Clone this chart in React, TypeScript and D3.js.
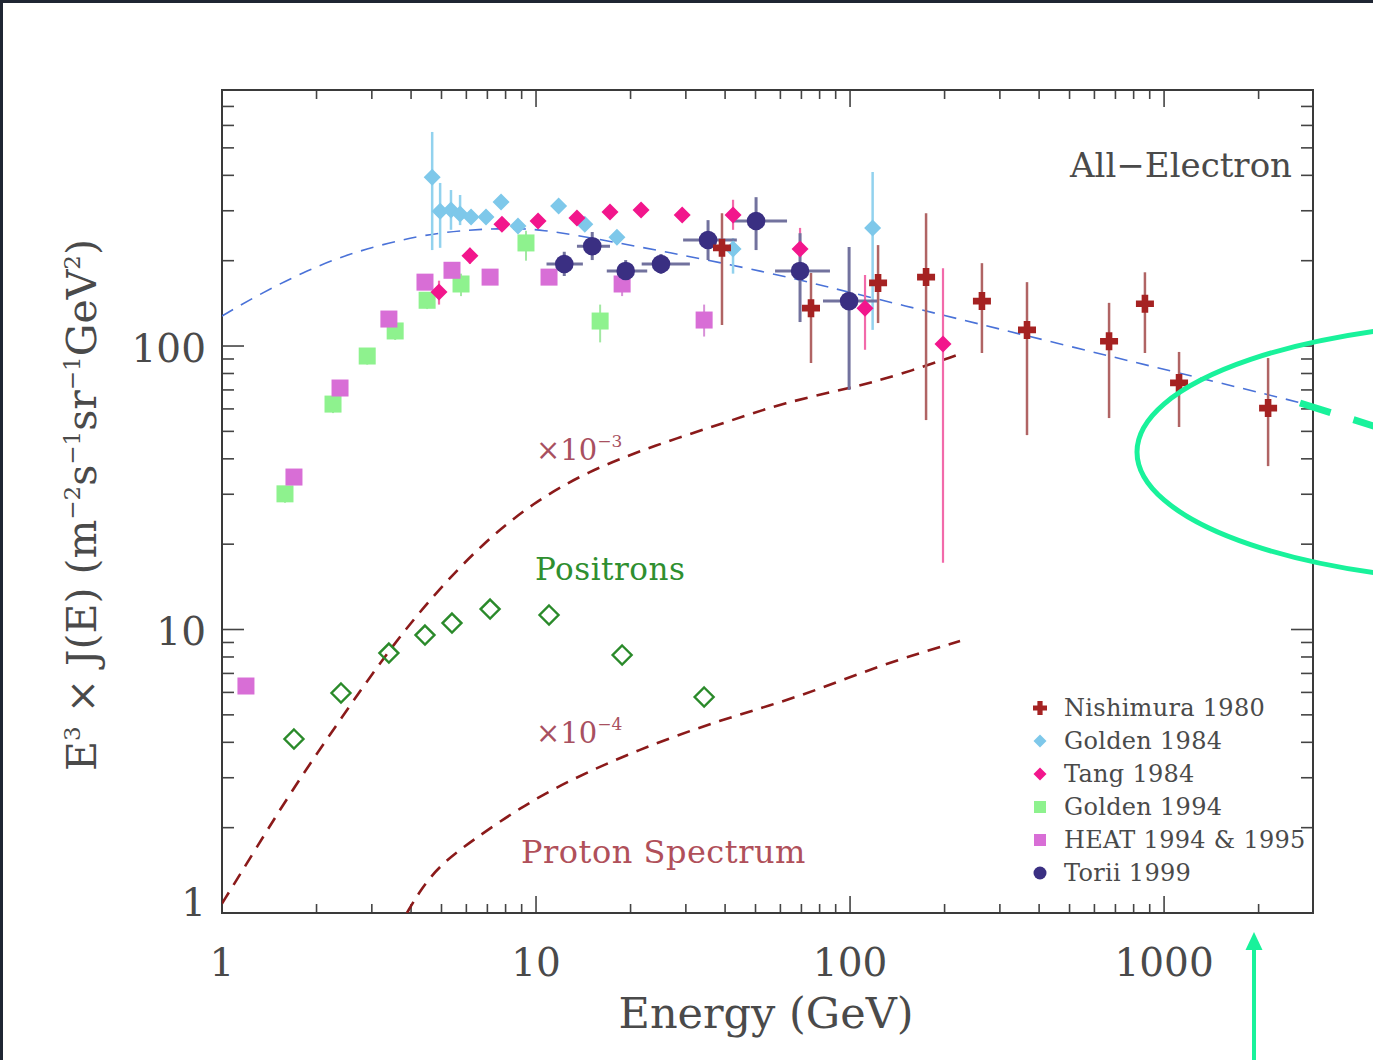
import React from 'react';
import * as d3 from 'd3';

const W = 1373;
const H = 1060;
const X_DOMAIN = [1, 2980];
const Y_DOMAIN = [1, 800];
const X_TICK_LABELS = [1, 10, 100, 1000];
const Y_TICK_LABELS = [1, 10, 100];

// [E (GeV), value, errLow, errHigh]
const nishimura1980 = [
  [39.1, 222, 118.6, 294],
  [75.1, 136, 87.1, 181],
  [122.8, 167, 120.5, 227],
  [174.6, 175, 54.8, 294],
  [263, 144, 94.5, 196],
  [366, 114, 48.5, 168],
  [668, 104, 55.7, 142],
  [869, 141, 94.5, 182],
  [1116, 74.1, 51.8, 95.3],
  [2144, 60.4, 37.7, 90.7],
];
const golden1984 = [
  [4.67, 394, 218, 569],
  [4.95, 299, 222, 376],
  [5.36, 302, 257, 355],
  [5.73, 292, 267, 341],
  [6.21, 285, 270, 300],
  [6.93, 285, 272, 298],
  [7.74, 322, 310, 335],
  [8.76, 265, 255, 276],
  [11.8, 312, 300, 325],
  [14.3, 269, 258, 280],
  [18.1, 242, 230, 255],
  [42.4, 220, 180, 240],
  [118, 261, 114, 411],
];
const tang1984 = [
  [4.91, 155, 140, 170],
  [6.16, 208, 195, 222],
  [7.79, 269, 255, 283],
  [10.15, 276, 262, 290],
  [13.5, 283, 270, 297],
  [17.2, 297, 283, 312],
  [21.6, 302, 288, 316],
  [29.2, 290, 276, 304],
  [42.4, 290, 257, 328],
  [69.3, 220, 206, 261],
  [111.6, 136, 97, 178],
  [197.7, 101.6, 17.2, 188],
];
const golden1994 = [
  [1.587, 30.1, 28, 32],
  [2.257, 62.4, 58, 67],
  [2.9, 92.2, 86, 98],
  [3.56, 113, 105, 121],
  [4.5, 145, 135, 155],
  [5.77, 165.5, 150, 180],
  [9.29, 231, 200, 255],
  [16.0, 122.5, 103, 140],
];
const heat9495 = [
  [1.192, 6.32, 6.1, 6.5],
  [1.695, 34.5, 33, 36],
  [2.376, 71.1, 68, 74],
  [3.4, 124.5, 119, 130],
  [4.43, 168, 160, 176],
  [5.4, 185, 176, 194],
  [7.14, 175, 167, 183],
  [11.0, 175, 167, 183],
  [18.8, 165.5, 150, 180],
  [34.3, 123.5, 108, 140],
];
// [E, value, errLow, errHigh, Elow, Ehigh]
const torii1999 = [
  [12.3, 194.6, 176.6, 215, 10.8, 14.1],
  [15.1, 225, 201, 252.5, 13.5, 17.2],
  [19.3, 184, 168, 201, 16.8, 22.6],
  [25.0, 194.6, 179.5, 211, 21.7, 30.9],
  [35.3, 236.6, 201, 278, 29.4, 43.6],
  [50.2, 276, 218, 335, 42.4, 63.0],
  [69.3, 184, 121.5, 250, 57.7, 86.3],
  [99.3, 144, 70, 223.5, 82.0, 121.9],
];
const positrons = [
  [1.695, 4.11],
  [2.393, 5.97],
  [3.4, 8.26],
  [4.43, 9.56],
  [5.4, 10.54],
  [7.14, 11.81],
  [11.0, 11.25],
  [18.8, 8.13],
  [34.3, 5.78],
];
const allElectronModel = [
  [1, 127.6],
  [1.255, 148],
  [1.81, 182.4],
  [2.61, 214.6],
  [4.27, 246.4],
  [6.03, 256.6],
  [8.27, 261],
  [10.5, 257],
  [14.5, 242.5],
  [26.1, 214.6],
  [54.4, 182.4],
  [88.3, 160],
  [144, 140],
  [300, 114.8],
  [708, 90.7],
  [1475, 74.6],
  [2980, 61.5],
];
const protonTimes1e3 = [
  [1, 1.08],
  [1.166, 1.42],
  [1.646, 2.65],
  [2.376, 4.8],
  [3.354, 8.3],
  [4.7, 13.2],
  [6.78, 20.2],
  [9.78, 28.0],
  [14.5, 36.0],
  [23.6, 44.5],
  [42.4, 54.8],
  [61.2, 63.0],
  [100, 71.1],
  [141, 78.5],
  [224, 93.7],
];
const protonTimes1e4 = [
  [3.88, 1.0],
  [4.27, 1.2],
  [4.95, 1.48],
  [6.3, 1.81],
  [8.89, 2.35],
  [12.6, 2.92],
  [21.0, 3.76],
  [38.5, 4.8],
  [69.3, 5.78],
  [124.7, 7.5],
  [224, 9.11],
];
const legendNames = [
  'Nishimura 1980',
  'Golden 1984',
  'Tang 1984',
  'Golden 1994',
  'HEAT 1994 & 1995',
  'Torii 1999',
];

const FONT = '"DejaVu Serif", serif';
const C = {
  nishimura: '#a52222',
  nishimuraErr: '#b06464',
  golden84: '#7ec8ea',
  golden84Err: '#92d2ee',
  tang: '#f2168c',
  tangErr: '#f26aaa',
  golden94: '#8ef28e',
  golden94Err: '#a2e8a2',
  heat: '#d86ed6',
  heatErr: '#d890d8',
  torii: '#3a2f82',
  toriiErr: '#72729e',
  positron: '#2a8a2a',
  model: '#4a72d8',
  proton: '#8b1a1a',
  green: '#19f29b',
};

function Diamond({ cx, cy, r, fill, stroke = 'none', sw = 0 }) {
  return (
    <path
      d={`M${cx},${cy - r}L${cx + r},${cy}L${cx},${cy + r}L${cx - r},${cy}Z`}
      fill={fill}
      stroke={stroke}
      strokeWidth={sw}
    />
  );
}
function Square({ cx, cy, s, fill }) {
  return <rect x={cx - s / 2} y={cy - s / 2} width={s} height={s} fill={fill} />;
}
function Cross({ cx, cy, a, t, fill }) {
  const d = `M${cx - t},${cy - a}H${cx + t}V${cy - t}H${cx + a}V${cy + t}H${cx + t}V${cy + a}H${cx - t}V${cy + t}H${cx - a}V${cy - t}H${cx - t}Z`;
  return <path d={d} fill={fill} />;
}

export default function App() {
  const x = d3.scaleLog().domain(X_DOMAIN).range([222, 1313]);
  const y = d3.scaleLog().domain(Y_DOMAIN).range([913, 90]);
  const [x0, x1] = x.range();
  const [y0, y1] = y.range();
  const ticksX = x.ticks();
  const ticksY = y.ticks();
  const isMajor = (v) => Math.abs(Math.log10(v) - Math.round(Math.log10(v))) < 1e-6;
  const line = d3
    .line()
    .x((d) => x(d[0]))
    .y((d) => y(d[1]))
    .curve(d3.curveBasis);

  const vbar = (d, color, w, key) => (
    <line key={key} x1={x(d[0])} x2={x(d[0])} y1={y(d[2])} y2={y(d[3])} stroke={color} strokeWidth={w} />
  );

  const legendY0 = 708;
  const legendDy = 33;
  const textGray = '#4a4a4a';

  return (
    <svg
      width={W}
      height={H}
      viewBox={`0 0 ${W} ${H}`}
      style={{ position: 'absolute', left: 0, top: 0, background: '#fff' }}
      fontFamily={FONT}
    >
      <rect x={0} y={0} width={W} height={H} fill="#fff" />
      <rect x={0} y={0} width={W} height={3} fill="#1f2633" />
      <rect x={0} y={0} width={3} height={H} fill="#1f2633" />
      <defs>
        <clipPath id="plot">
          <rect x={x0} y={y1} width={x1 - x0} height={y0 - y1} />
        </clipPath>
      </defs>

      {/* ticks */}
      <g stroke="#444" strokeWidth={1.6}>
        {ticksX.map((t, i) => {
          const L = isMajor(t) ? 17 : 9;
          const px = x(t);
          return (
            <g key={'tx' + i}>
              <line x1={px} x2={px} y1={y0} y2={y0 - L} />
              <line x1={px} x2={px} y1={y1} y2={y1 + L} />
            </g>
          );
        })}
        {ticksY.map((t, i) => {
          const L = isMajor(t) ? 22 : 12;
          const py = y(t);
          return (
            <g key={'ty' + i}>
              <line x1={x0} x2={x0 + L} y1={py} y2={py} />
              <line x1={x1} x2={x1 - L} y1={py} y2={py} />
            </g>
          );
        })}
      </g>
      <rect x={x0} y={y1} width={x1 - x0} height={y0 - y1} fill="none" stroke="#3a3a3a" strokeWidth={2} />

      {/* tick labels */}
      <g fill={textGray} fontSize={39}>
        {X_TICK_LABELS.map((t) => (
          <text key={'lx' + t} x={x(t)} y={976} textAnchor="middle">
            {t}
          </text>
        ))}
        {Y_TICK_LABELS.map((t) => (
          <text key={'ly' + t} x={206} y={Math.min(y(t), 900) + 2} textAnchor="end" dominantBaseline="central">
            {t}
          </text>
        ))}
      </g>

      {/* axis titles */}
      <text x={766} y={1028} textAnchor="middle" fontSize={43} fill={textGray}>
        Energy (GeV)
      </text>
      <text transform="translate(96,505) rotate(-90)" textAnchor="middle" fontSize={41} fill={textGray}>
        <tspan>E</tspan>
        <tspan dy={-16} fontSize={23}>3</tspan>
        <tspan dy={16}> × J(E) (m</tspan>
        <tspan dy={-16} fontSize={23}>−2</tspan>
        <tspan dy={16}>s</tspan>
        <tspan dy={-16} fontSize={23}>−1</tspan>
        <tspan dy={16}>sr</tspan>
        <tspan dy={-16} fontSize={23}>−1</tspan>
        <tspan dy={16}>GeV</tspan>
        <tspan dy={-16} fontSize={23}>2</tspan>
        <tspan dy={16}>)</tspan>
      </text>

      {/* model curves */}
      <g clipPath="url(#plot)" fill="none">
        <path d={line(allElectronModel)} stroke={C.model} strokeWidth={1.6} strokeDasharray="13 9" />
        <path d={line(protonTimes1e3)} stroke={C.proton} strokeWidth={2.6} strokeDasharray="13 9" />
        <path d={line(protonTimes1e4)} stroke={C.proton} strokeWidth={2.6} strokeDasharray="13 9" />
      </g>

      {/* labels in plot */}
      <text x={1292} y={177} textAnchor="end" fontSize={34} fill={textGray}>
        All−Electron
      </text>
      <text x={536} y={460} fontSize={29} fill="#a85060">
        <tspan>×10</tspan>
        <tspan dy={-13} fontSize={17}>−3</tspan>
      </text>
      <text x={536} y={743} fontSize={29} fill="#a85060">
        <tspan>×10</tspan>
        <tspan dy={-13} fontSize={17}>−4</tspan>
      </text>
      <text x={535} y={580} fontSize={31} fill="#2f8f2f" letterSpacing={0.5}>
        Positrons
      </text>
      <text x={521} y={863} fontSize={32} fill="#b0505a" letterSpacing={0.5}>
        Proton Spectrum
      </text>

      {/* error bars */}
      <g>
        {golden1984.map((d, i) => vbar(d, C.golden84Err, 2.5, 'g84e' + i))}
        {golden1994.map((d, i) => vbar(d, C.golden94Err, 2, 'g94e' + i))}
        {heat9495.map((d, i) => vbar(d, C.heatErr, 2, 'he' + i))}
        {tang1984.map((d, i) => vbar(d, C.tangErr, 2.2, 'te' + i))}
        {nishimura1980.map((d, i) => vbar(d, C.nishimuraErr, 2.5, 'ne' + i))}
        {torii1999.map((d, i) => (
          <g key={'toe' + i} stroke={C.toriiErr} strokeWidth={3}>
            <line x1={x(d[0])} x2={x(d[0])} y1={y(d[2])} y2={y(d[3])} />
            <line x1={x(d[4])} x2={x(d[5])} y1={y(d[1])} y2={y(d[1])} />
          </g>
        ))}
      </g>

      {/* markers */}
      <g>
        {golden1994.map((d, i) => (
          <Square key={'g94' + i} cx={x(d[0])} cy={y(d[1])} s={17} fill={C.golden94} />
        ))}
        {heat9495.map((d, i) => (
          <Square key={'h' + i} cx={x(d[0])} cy={y(d[1])} s={17} fill={C.heat} />
        ))}
        {golden1984.map((d, i) => (
          <Diamond key={'g84' + i} cx={x(d[0])} cy={y(d[1])} r={8.5} fill={C.golden84} />
        ))}
        {tang1984.map((d, i) => (
          <Diamond key={'t' + i} cx={x(d[0])} cy={y(d[1])} r={8.5} fill={C.tang} />
        ))}
        {torii1999.map((d, i) => (
          <circle key={'to' + i} cx={x(d[0])} cy={y(d[1])} r={9.3} fill={C.torii} />
        ))}
        {nishimura1980.map((d, i) => (
          <Cross key={'n' + i} cx={x(d[0])} cy={y(d[1])} a={9} t={3.3} fill={C.nishimura} />
        ))}
        {positrons.map((d, i) => (
          <Diamond key={'p' + i} cx={x(d[0])} cy={y(d[1])} r={9.5} fill="none" stroke={C.positron} sw={2.4} />
        ))}
      </g>

      {/* legend */}
      <g fontSize={24} fill={textGray} letterSpacing={0.3}>
        {legendNames.map((name, i) => {
          const cy = legendY0 + i * legendDy;
          const cx = 1040;
          let m = null;
          if (i === 0) m = <Cross cx={cx} cy={cy} a={7} t={2.6} fill={C.nishimura} />;
          if (i === 1) m = <Diamond cx={cx} cy={cy} r={6.5} fill={C.golden84} />;
          if (i === 2) m = <Diamond cx={cx} cy={cy} r={6.5} fill={C.tang} />;
          if (i === 3) m = <Square cx={cx} cy={cy} s={12} fill={C.golden94} />;
          if (i === 4) m = <Square cx={cx} cy={cy} s={12} fill={C.heat} />;
          if (i === 5) m = <circle cx={cx} cy={cy} r={6.5} fill={C.torii} />;
          return (
            <g key={'lg' + i}>
              {m}
              <text x={1064} y={cy + 8}>
                {name}
              </text>
            </g>
          );
        })}
      </g>

      {/* green annotations */}
      <ellipse cx={1525} cy={452} rx={388} ry={131} fill="none" stroke={C.green} strokeWidth={5} />
      <line x1={1300} y1={403} x2={1380} y2={428} stroke={C.green} strokeWidth={7} strokeDasharray="32 24" />
      <line x1={1254} y1={1060} x2={1254} y2={946} stroke={C.green} strokeWidth={4} />
      <path d="M1254,932L1262.5,950L1245.5,950Z" fill={C.green} />
    </svg>
  );
}
